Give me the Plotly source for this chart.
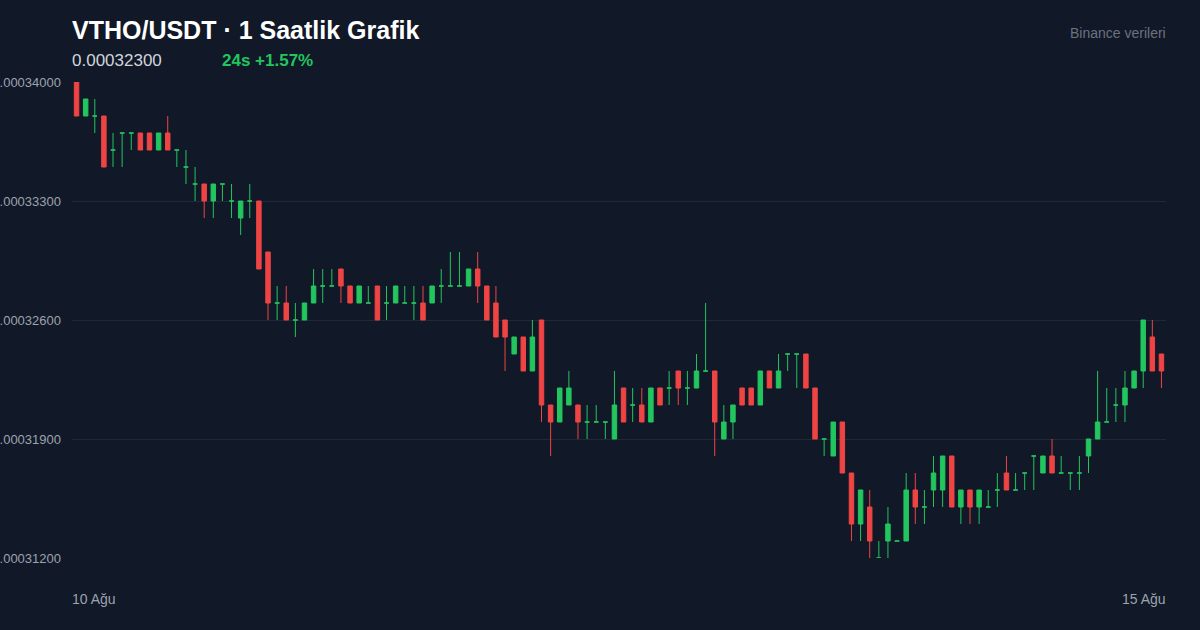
import plotly.graph_objects as go

# hourly candles, prices in units of 1e-6 USDT
opens = [340,338,338,338,336,337,337,337,337,336,337,336,335,334,334,333,334,333,332,333,
         333,330,327,327,326,326,327,328,328,329,328,327,327,328,327,327,327,327,327,327,
         328,328,328,328,329,328,327,326,324,325,323,326,321,320,321,321,320,320,320,319,
         322,321,321,320,322,322,323,322,322,323,323,319,320,322,322,321,323,322,324,324,
         324,322,319,318,320,317,314,315,312,313,313,313,316,315,316,316,318,315,316,315,
         315,316,317,316,317,318,317,318,317,317,317,318,319,320,321,321,322,323,325,324]
highs = [340,339,339,338,337,337,337,337,337,337,338,336,336,335,334,334,334,334,333,334,
         333,330,328,328,327,327,329,329,329,329,328,328,328,328,328,328,328,328,328,328,
         329,330,330,329,330,328,328,326,325,325,326,326,321,322,323,321,321,321,320,323,
         322,322,322,322,322,323,323,323,324,327,323,321,321,322,322,323,323,324,324,324,
         324,322,319,320,320,317,316,316,313,315,313,317,317,316,318,318,318,316,316,316,
         316,317,318,317,317,318,318,319,318,317,318,319,323,322,322,323,323,326,326,324]
lows = [338,338,337,335,335,335,336,336,336,336,336,335,334,333,332,332,333,332,331,332,
        329,326,326,326,325,326,327,327,328,327,327,327,327,327,326,327,327,326,326,327,
        327,328,328,328,327,326,325,323,324,323,323,320,318,320,321,319,319,320,319,319,
        320,320,320,320,321,321,321,321,322,323,318,319,319,321,321,321,322,322,323,322,
        322,319,318,318,317,313,313,312,312,312,313,313,314,314,315,315,315,314,314,314,
        315,315,316,316,316,316,317,317,317,316,316,317,319,320,320,320,322,322,323,322]
closes = [338,339,338,335,336,337,337,336,336,337,336,336,335,334,333,334,334,333,333,333,
          329,327,327,326,326,327,328,328,328,328,327,328,327,326,327,328,327,327,326,328,
          328,328,328,329,328,326,325,325,325,323,325,321,320,322,322,320,320,320,320,321,
          320,321,320,322,321,322,322,322,323,323,320,320,321,321,321,323,322,323,324,324,
          322,319,319,320,317,314,316,313,312,314,313,316,315,315,317,318,315,316,315,316,
          315,316,316,316,317,318,318,317,317,317,317,319,320,320,321,322,323,326,323,323]

scale = 1e-6
ytick_vals = [312, 319, 326, 333, 340]

bg = "#111827"
green = "#22c55e"
red = "#ef4444"

fig = go.Figure()
# up candles (including flat ones) green, down candles red
for up, color in [(True, green), (False, red)]:
    idx = [i for i in range(len(opens)) if (closes[i] >= opens[i]) == up]
    fig.add_trace(go.Candlestick(
        x=idx,
        open=[opens[i] * scale for i in idx],
        high=[highs[i] * scale for i in idx],
        low=[lows[i] * scale for i in idx],
        close=[closes[i] * scale for i in idx],
        increasing=dict(line=dict(color=color, width=1), fillcolor=color),
        decreasing=dict(line=dict(color=color, width=1), fillcolor=color),
        whiskerwidth=0,
        hoverinfo="skip",
    ))

W, H = 1200, 630
L, R, T, B = 72, 34, 82, 72


def px(x, y):
    return (x - L) / (W - L - R), (H - y - B) / (H - T - B)


def note(text, x, y, size, color, anchor):
    ax, ay = px(x, y)
    return dict(text=text, x=ax, y=ay, xref="paper", yref="paper", showarrow=False,
                font=dict(size=size, color=color), xanchor=anchor, yanchor="middle",
                xshift=-2 if anchor == "left" else 2)


fig.update_layout(
    width=W, height=H,
    paper_bgcolor=bg, plot_bgcolor=bg,
    margin=dict(l=L, r=R, t=T, b=B),
    showlegend=False,
    font=dict(family="Liberation Sans, Arial, sans-serif", color="#9ca3af", size=13),
    xaxis=dict(range=[-0.5, len(opens) - 0.5], showgrid=False, zeroline=False,
               showticklabels=False, rangeslider=dict(visible=False), fixedrange=True),
    yaxis=dict(range=[312 * scale, 340 * scale], tickvals=[v * scale for v in ytick_vals],
               tickformat=".8f", gridcolor="#1f2937", gridwidth=1, zeroline=False,
               automargin=False, ticklabelstandoff=10, tickfont=dict(size=13, color="#9ca3af")),
    annotations=[
        note("<b>VTHO/USDT · 1 Saatlik Grafik</b>", 72, 30, 25, "#ffffff", "left"),
        note("0.00032300", 72, 61, 17, "#d1d5db", "left"),
        note("<b>24s +1.57%</b>", 222, 61, 17, green, "left"),
        note("Binance verileri", 1166, 33, 14, "#6b7280", "right"),
        note("10 Ağu", 72, 599, 14, "#9ca3af", "left"),
        note("15 Ağu", 1166, 599, 14, "#9ca3af", "right"),
    ],
)

html = fig.to_html(include_plotlyjs=True, full_html=True, config={"displayModeBar": False})
html = html.replace("<body>", '<body style="margin:0;background:#111827">', 1)
with open("out.html", "w", encoding="utf-8") as f:
    f.write(html)
